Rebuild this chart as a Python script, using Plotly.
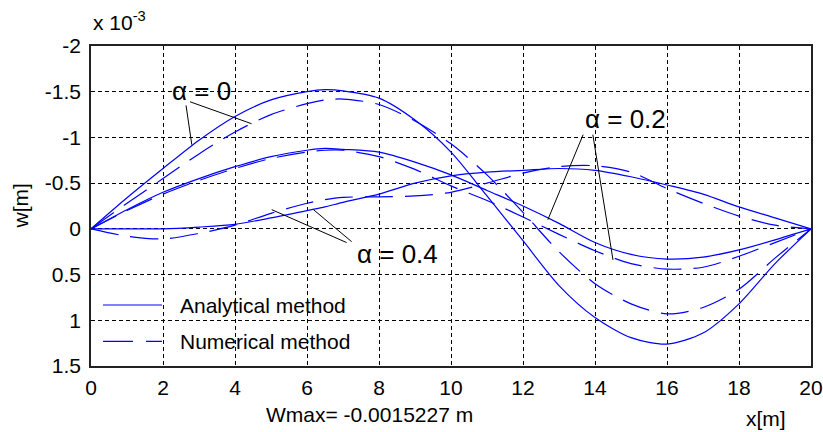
import plotly.graph_objects as go

# Beam deflection w(x) for three values of alpha, analytical vs numerical solution.
# Deflections are stored in units of 1e-3 m.
x_pos = [0, 1, 2, 3, 4, 5, 6, 6.5, 7, 8, 9, 10, 11, 12, 13, 14, 15, 16, 17, 18, 19, 20]

w_an_a0 = [0, -0.34, -0.66, -0.97, -1.23, -1.41, -1.50, -1.5227, -1.51, -1.43, -1.19, -0.84,
           -0.36, 0.13, 0.62, 0.97, 1.19, 1.26, 1.14, 0.82, 0.38, 0]
w_num_a0 = [0, -0.28, -0.55, -0.82, -1.06, -1.25, -1.37, -1.41, -1.42, -1.36, -1.18, -0.93,
            -0.59, -0.18, 0.25, 0.60, 0.82, 0.93, 0.86, 0.66, 0.32, 0]

w_an_a02 = [0, -0.21, -0.40, -0.55, -0.68, -0.79, -0.86, -0.88, -0.87, -0.84, -0.73, -0.59,
            -0.42, -0.25, -0.06, 0.15, 0.28, 0.33, 0.31, 0.23, 0.12, 0]
w_num_a02 = [0, -0.20, -0.38, -0.53, -0.66, -0.77, -0.84, -0.86, -0.86, -0.79, -0.65, -0.47,
             -0.31, -0.13, 0.06, 0.24, 0.38, 0.44, 0.42, 0.30, 0.15, 0]

w_an_a04 = [0, 0.0, 0.0, -0.02, -0.05, -0.12, -0.20, -0.24, -0.29, -0.38, -0.50, -0.58,
            -0.62, -0.64, -0.66, -0.64, -0.57, -0.48, -0.38, -0.24, -0.12, 0]
w_num_a04 = [0, 0.08, 0.11, 0.05, -0.04, -0.17, -0.28, -0.32, -0.345, -0.35, -0.36, -0.40,
             -0.50, -0.61, -0.68, -0.69, -0.62, -0.44, -0.28, -0.14, -0.04, 0]

x_ticks = list(range(0, 21, 2))
y_ticks = [-2, -1.5, -1, -0.5, 0, 0.5, 1, 1.5]
y_tick_text = ["-2", "-1.5", "-1", "-0.5", "0", "0.5", "1", "1.5"]

W_SCALE = 1e-3
w_max = min(w_an_a0) * W_SCALE

BLUE = "#0000ff"
DASH = "28px,12px"
FONT = "Liberation Sans, Arial, sans-serif"
TXT = 21

fig = go.Figure()

for w in (w_an_a0, w_an_a02, w_an_a04):
    fig.add_trace(go.Scatter(x=x_pos, y=w, mode="lines",
                             line=dict(color=BLUE, width=1.2, shape="spline", smoothing=0.8),
                             showlegend=False, hoverinfo="skip"))
for w in (w_num_a0, w_num_a02, w_num_a04):
    fig.add_trace(go.Scatter(x=x_pos, y=w, mode="lines",
                             line=dict(color=BLUE, width=1.2, dash=DASH, shape="spline", smoothing=0.8),
                             showlegend=False, hoverinfo="skip"))

# leader lines from the alpha labels to the curves
leaders = [
    ((2.64, -1.35), (2.80, -0.92)),
    ((2.75, -1.39), (4.46, -1.15)),
    ((13.67, -1.03), (12.69, -0.10)),
    ((13.94, -1.03), (14.50, 0.34)),
    ((7.10, 0.15), (5.02, -0.21)),
    ((7.24, 0.14), (6.18, -0.21)),
]
shapes = []
for (x0, y0), (x1, y1) in leaders:
    shapes.append(dict(type="line", xref="x", yref="y", x0=x0, y0=y0, x1=x1, y1=y1,
                       line=dict(color="black", width=1)))

# legend drawn inside the axes
shapes.append(dict(type="line", xref="paper", yref="paper", x0=0.0167, x1=0.0986,
                   y0=0.1906, y1=0.1906, line=dict(color=BLUE, width=1.2)))
shapes.append(dict(type="line", xref="paper", yref="paper", x0=0.0167, x1=0.0986,
                   y0=0.077, y1=0.077, line=dict(color=BLUE, width=1.2, dash="30px,13px")))

annotations = [
    dict(text="α = 0", x=3.06, y=-1.51, xref="x", yref="y", showarrow=False,
         font=dict(size=26)),
    dict(text="α = 0.2", x=14.86, y=-1.20, xref="x", yref="y", showarrow=False,
         font=dict(size=26)),
    dict(text="α = 0.4", x=8.50, y=0.27, xref="x", yref="y", showarrow=False,
         font=dict(size=26)),
    dict(text="Analytical method", x=0.1208, y=0.1906, xref="paper", yref="paper",
         xanchor="left", yanchor="middle", showarrow=False, font=dict(size=TXT)),
    dict(text="Numerical method", x=0.1208, y=0.077, xref="paper", yref="paper",
         xanchor="left", yanchor="middle", showarrow=False, font=dict(size=TXT)),
    dict(text=f"Wmax= {w_max:.7f} m", x=0.387, y=-0.15, xref="paper", yref="paper",
         xanchor="center", yanchor="middle", showarrow=False, font=dict(size=TXT)),
    dict(text="x[m]", x=0.9375, y=-0.1625, xref="paper", yref="paper",
         xanchor="center", yanchor="middle", showarrow=False, font=dict(size=TXT)),
    dict(text="w[m]", x=-0.098, y=0.5, xref="paper", yref="paper", textangle=-90,
         xanchor="center", yanchor="middle", showarrow=False, font=dict(size=TXT)),
    dict(text="x 10<sup>-3</sup>", x=0.0, y=1.03, xref="paper", yref="paper",
         xanchor="left", yanchor="bottom", showarrow=False, font=dict(size=TXT)),
]

axis_common = dict(
    showgrid=True, gridcolor="black", gridwidth=1.2, griddash="4px,3px",
    showline=True, mirror=True, linecolor="#222222", linewidth=1.6,
    ticks="", zeroline=False, automargin=False, tickfont=dict(size=TXT, color="black"),
)

fig.update_layout(
    width=823, height=432,
    margin=dict(l=91, r=12, t=46, b=66),
    plot_bgcolor="white", paper_bgcolor="white",
    font=dict(family=FONT, size=TXT, color="black"),
    showlegend=False,
    xaxis=dict(range=[0, 20], tickvals=x_ticks, ticklabelstandoff=2, **axis_common),
    yaxis=dict(range=[1.5, -2], tickvals=y_ticks, ticktext=y_tick_text,
               ticklabelstandoff=4, **axis_common),
    shapes=shapes,
    annotations=annotations,
)

fig.write_html("out.html")
